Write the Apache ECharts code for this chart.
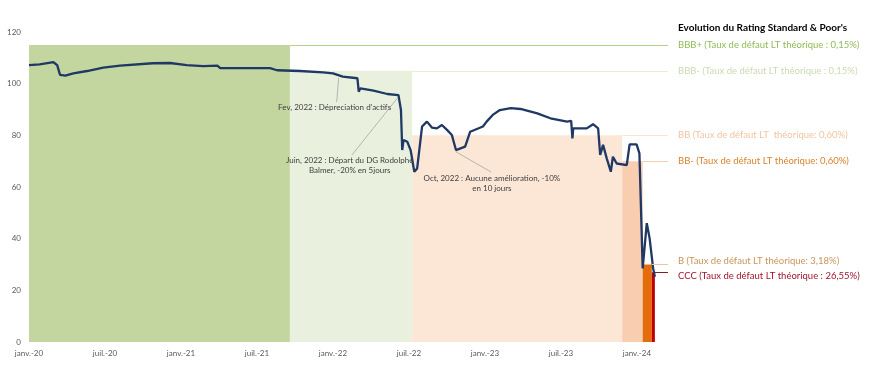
<!DOCTYPE html>
<html>
<head>
<meta charset="utf-8">
<script src="https://cdn.jsdelivr.net/npm/echarts@6/dist/echarts.min.js"></script>
<style>html,body{margin:0;padding:0;background:#fff}#c{width:886px;height:374px}</style>
</head>
<body>
<div id="c"></div>
<script>
// ---- price series ----
const dates = ['2020-01-01','2020-01-27','2020-02-28','2020-03-08','2020-03-15','2020-03-28','2020-04-16','2020-05-19','2020-06-27','2020-08-07','2020-10-25','2020-12-05','2021-01-15','2021-02-22','2021-03-28','2021-04-04','2021-06-22','2021-08-02','2021-08-19','2021-10-13','2021-12-08','2022-01-01','2022-01-25','2022-02-27','2022-03-02','2022-03-06','2022-04-07','2022-05-10','2022-06-06','2022-06-12','2022-06-15','2022-06-18','2022-06-27','2022-07-05','2022-07-14','2022-07-21','2022-08-02','2022-08-14','2022-08-26','2022-09-07','2022-09-19','2022-10-01','2022-10-13','2022-10-23','2022-11-14','2022-11-26','2022-12-27','2023-01-05','2023-01-20','2023-02-06','2023-03-02','2023-03-26','2023-05-05','2023-06-06','2023-07-16','2023-07-26','2023-07-29','2023-07-31','2023-09-02','2023-09-17','2023-09-29','2023-10-04','2023-10-11','2023-10-20','2023-10-30','2023-11-04','2023-11-13','2023-12-07','2023-12-14','2023-12-31','2024-01-07','2024-01-15','2024-01-25','2024-02-01','2024-02-09','2024-02-13'];
const values = [107.2,107.5,108.3,107.2,103.4,103.1,104.0,104.9,106.2,107.0,107.9,108.0,107.2,106.8,107.0,106.0,106.0,106.0,105.2,104.9,104.4,104.0,102.7,102.1,96.9,98.2,97.3,96.0,95.6,89.8,74.3,78.2,77.5,74.3,65.9,67.2,83.4,85.3,83.0,82.7,84.0,82.1,80.1,74.3,75.6,81.4,83.4,85.3,87.9,89.8,90.5,90.2,88.5,86.6,85.3,85.6,78.8,82.7,82.7,84.3,82.7,72.4,76.3,71.1,65.9,71.7,69.1,68.5,76.5,76.5,73.0,28.5,46.0,40.1,28.5,25.3];

// ---- ratings ----
const ratingNames = ['BBB+','BBB-','BB','BB-','B','CCC'];
const ratingLevels = [115,105,80,70,30,27];
const ratingStart = ['2020-01-01','2021-09-19','2022-07-09','2023-11-26','2024-01-15','2024-02-06'];
const ratingEnd = ['2021-09-19','2022-07-09','2023-11-26','2024-01-15','2024-02-06','2024-02-13'];
const ratingLabels = ['BBB+ (Taux de défaut LT théorique : 0,15%)','BBB- (Taux de défaut LT théorique : 0,15%)','BB (Taux de défaut LT  théorique: 0,60%)','BB- (Taux de défaut LT théorique: 0,60%)','B (Taux de défaut LT théorique: 3,18%)','CCC (Taux de défaut LT théorique : 26,55%)'];
const legendTitle = "Evolution du Rating Standard & Poor's";

// ---- tick labels ----
const xTickLabels = ['janv.-20','juil.-20','janv.-21','juil.-21','janv.-22','juil.-22','janv.-23','juil.-23','janv.-24'];
const yTicks = [0,20,40,60,80,100,120];

// ---- annotations (text anchor date/value, leader from -> to) ----
const annoTexts = ["Fev, 2022 : Dépreciation d'actifs", 'Juin, 2022 : Départ du DG Rodolphe\nBalmer, -20% en 5jours', 'Oct, 2022 : Aucune amélioration, -10%\nen 10 jours'];
const annoAt = [['2022-01-05',90.7],['2022-02-10',68.4],['2023-01-18',61.4]];
const annoFrom = [['2022-01-10',92.9],['2022-02-15',72.4],['2023-01-16',65.8]];
const annoTo = [['2022-01-15',102.2],['2022-06-04',94.5],['2022-10-22',73.7]];

// styles
const bandColors = ['#c4d69f','#eaf0de','#fce6d6','#f9cdb0','#e46c0a','#c00000'];
const refLineColors = ['#b9d08a','#e6eed8','#fbe4d4','#f6cfb2','#f0c49e','#8b1a2b'];
const refTextColors = ['#8fbb54','#cbdab3','#f1c4a2','#d9822e','#c9955a','#a0152c'];
const refTextVAlign = ['middle','middle','middle','middle','bottom','top'];

function toMonth(s){
  const [y,m,d] = s.split('-').map(Number);
  const dim = new Date(y, m, 0).getDate();
  return (y-2020)*12 + (m-1) + (d-1)/dim;
}
const X_MAX = 50.45;

const lineData = dates.map((d,i)=>[toMonth(d), values[i]]);

const areas = ratingNames.map((n,i)=>[
  {coord:[toMonth(ratingStart[i]),0], itemStyle:{color:bandColors[i]}},
  {coord:[toMonth(ratingEnd[i]), ratingLevels[i]]}
]);

const refLines = ratingNames.map((n,i)=>[
  {coord:[toMonth(ratingEnd[i]), ratingLevels[i]], lineStyle:{color:refLineColors[i], width:1, type:'solid'},
   label:{show:true, position:'end', formatter: ratingLabels[i], color: refTextColors[i], fontSize:9.5, fontFamily:'Lato', distance:10,
     verticalAlign: refTextVAlign[i], lineHeight: refTextVAlign[i]==='middle' ? 12 : 8}},
  {coord:[X_MAX, ratingLevels[i]]}
]);

const leaderLines = annoTexts.map((t,i)=>[
  {coord:[toMonth(annoFrom[i][0]), annoFrom[i][1]], lineStyle:{color:'#a6a6a6', width:0.8, type:'solid'}, label:{show:false}},
  {coord:[toMonth(annoTo[i][0]), annoTo[i][1]]}
]);

const annoPoints = annoTexts.map((t,i)=>({
  coord:[toMonth(annoAt[i][0]), annoAt[i][1]],
  symbol:'circle', symbolSize:1, itemStyle:{color:'rgba(0,0,0,0)'},
  label:{show:true, position:'inside', formatter:t, color:'#404040', fontSize:8, lineHeight:10, fontFamily:'Lato', align:'center'}
}));

const chart = echarts.init(document.getElementById('c'), null, {renderer:'canvas'});
chart.setOption({
  animation:false,
  backgroundColor:'#fff',
  title:{text:legendTitle, left:673, top:18, textStyle:{fontSize:10, fontWeight:'bold', color:'#000', fontFamily:'Lato'}},
  grid:{left:29, right:886-668, top:32, bottom:32, containLabel:false},
  xAxis:{type:'value', min:0, max:X_MAX, interval:6,
    axisLine:{show:false}, axisTick:{show:false}, splitLine:{show:false},
    axisLabel:{color:'#595959', fontSize:8, fontFamily:'Lato', margin:7,
      formatter:v=>{const k=Math.round(v); return (Math.abs(v-k)<1e-6 && k%6===0 && xTickLabels[k/6]) ? xTickLabels[k/6] : '';}}},
  yAxis:{type:'value', min:yTicks[0], max:yTicks[yTicks.length-1], interval:20,
    axisLine:{show:false}, axisTick:{show:false}, splitLine:{show:false},
    axisLabel:{color:'#595959', fontSize:8, fontFamily:'Lato', margin:8}},
  series:[{
    type:'line', data:lineData, showSymbol:false, symbol:'none',
    lineStyle:{color:'#1f3864', width:2.3}, z:3,
    markArea:{silent:true, data:areas, z:1},
    markLine:{silent:true, symbol:['none','none'], data:refLines.concat(leaderLines)},
    markPoint:{silent:true, data:annoPoints}
  }]
});
</script>
</body>
</html>
